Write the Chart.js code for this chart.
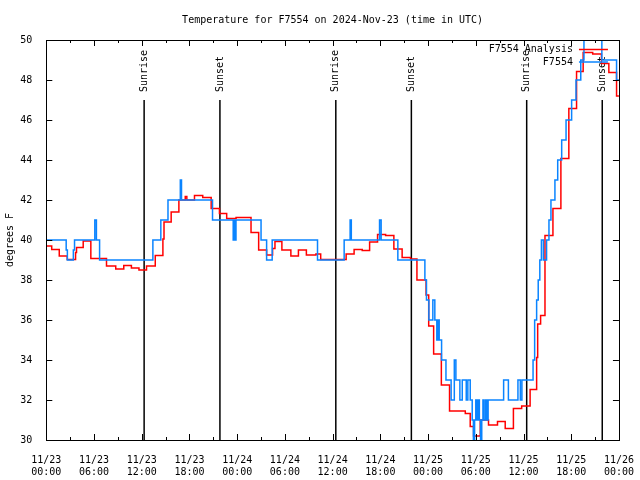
<!DOCTYPE html>
<html>
<head>
<meta charset="utf-8">
<script src="https://cdn.jsdelivr.net/npm/chart.js@4.4.1/dist/chart.umd.min.js"></script>
<style>
    html, body { margin: 0; padding: 0; background: #fff; }
    canvas { display: block; }
</style>
</head>
<body>
<canvas id="chart" width="640" height="480"></canvas>
<script>
// hours since 2024-11-23 00:00 UTC, value holds until the next entry
const stationHours = [0, 2.5, 2.65, 3.4, 3.55, 6.1, 6.3, 6.7, 13.4, 14.4, 15.3, 16.85, 17.0, 20.9, 23.5, 23.65, 23.75, 23.85,
    27.0, 27.7, 28.4, 34.1, 37.45, 38.2, 38.35, 41.9, 42.1, 44.2, 47.6, 47.8, 48.1, 48.6, 48.85, 49.1, 49.25, 49.4, 49.7,
    50.25, 50.9, 51.3, 51.5, 52.0, 52.3, 52.8, 53.0, 53.3, 53.55, 53.7, 53.85, 54.0, 54.15, 54.3, 54.45, 54.6, 54.75, 54.9,
    55.05, 55.25, 55.4, 55.55, 57.5, 58.1, 59.3, 59.6, 59.8, 61.2, 61.4, 61.65, 61.85, 62.05, 62.25, 62.5, 62.9, 63.2,
    63.45, 63.95, 64.3, 64.8, 65.35, 66.05, 66.6, 67.2, 67.6, 69.85, 71.7, 72];
const stationTemps = [40, 39.5, 39, 39.5, 40, 41, 40, 39, 40, 41, 42, 43, 42, 41, 40, 41, 40, 41,
    40, 39, 40, 39, 40, 41, 40, 41, 40, 39, 38, 37, 36, 37, 36, 35, 36, 35, 34,
    33, 32, 34, 33, 32, 33, 32, 33, 32, 31, 29.5, 31, 32, 31, 32, 31, 29.5, 31, 32,
    31, 32, 31, 32, 33, 32, 33, 32, 33, 34, 36, 37, 38, 39, 40, 39, 40, 41,
    42, 43, 44, 45, 46, 47, 48, 49, 51, 49, 48, 48];

const analysisHours = [0, 0.68, 1.63, 2.63, 3.68, 3.8, 4.64, 5.6, 7.57, 8.73, 9.74, 10.7, 11.65, 12.6, 13.7, 14.66, 14.8,
    15.7, 16.67, 17.47, 17.67, 18.63, 19.67, 20.73, 21.77, 22.68, 23.86, 25.74, 26.7, 27.7, 28.45, 28.75, 29.62, 30.75,
    31.7, 32.7, 33.9, 34.5, 37.7, 38.7, 39.72, 40.65, 41.65, 42.66, 43.7, 44.74, 45.79, 46.6, 47.75, 48.08, 48.7, 49.67,
    50.7, 52.68, 53.3, 53.72, 54.56, 55.6, 56.73, 57.7, 58.73, 59.77, 60.83, 61.65, 61.78, 62.15, 62.7, 63.7, 64.7,
    65.7, 66.67, 67.5, 68.7, 69.8, 70.73, 71.7, 72];
const analysisTemps = [39.7, 39.53, 39.2, 39.03, 39.37, 39.63, 39.95, 39.08, 38.7, 38.55, 38.72, 38.6, 38.5, 38.7, 39.23, 40.05, 40.9,
    41.4, 42.0, 42.17, 42.0, 42.23, 42.13, 41.58, 41.33, 41.08, 41.13, 40.38, 39.5, 39.25, 39.58, 39.92, 39.5, 39.2,
    39.5, 39.25, 39.3, 39.03, 39.3, 39.53, 39.47, 39.9, 40.28, 40.23, 39.55, 39.13, 39.05, 38.0, 37.25, 35.7, 34.3, 32.75,
    31.45, 31.33, 30.67, 30.2, 31.0, 30.75, 30.92, 30.58, 31.58, 31.7, 32.53, 34.13, 35.8, 36.23, 40.23, 41.58, 44.08,
    46.58, 48.42, 49.37, 49.3, 48.83, 48.37, 47.2, 47.2];

const sunHours = [12.3, 21.83, 36.4, 45.9, 60.4, 69.9];
const sunLabels = ["Sunrise", "Sunset", "Sunrise", "Sunset", "Sunrise", "Sunset"];

const xLabelHours = [0, 6, 12, 18, 24, 30, 36, 42, 48, 54, 60, 66, 72];
const xLabelDates = ["11/23", "11/23", "11/23", "11/23", "11/24", "11/24", "11/24", "11/24", "11/25", "11/25", "11/25", "11/25", "11/26"];
const xLabelTimes = ["00:00", "06:00", "12:00", "18:00", "00:00", "06:00", "12:00", "18:00", "00:00", "06:00", "12:00", "18:00", "00:00"];

const chartTitle = "Temperature for F7554 on 2024-Nov-23 (time in UTC)";
const seriesNames = ["F7554 Analysis", "F7554"];
const seriesColors = ["#ff0000", "#0a84ff"];

const mono = "'DejaVu Sans Mono', 'Liberation Mono', monospace";
const toPoints = (hours, temps) => hours.map((h, i) => ({ x: h, y: temps[i] }));

const gnuFrame = {
    id: "gnuFrame",
    beforeDatasetsDraw(chart) {
        const { ctx, chartArea: a, scales: { x } } = chart;
        ctx.save();
        ctx.strokeStyle = "#000";
        ctx.fillStyle = "#000";
        ctx.lineWidth = 1.5;
        ctx.font = "10px " + mono;
        sunHours.forEach((h, i) => {
            const px = x.getPixelForValue(h);
            ctx.beginPath();
            ctx.moveTo(px, a.top + 60);
            ctx.lineTo(px, a.bottom);
            ctx.stroke();
            ctx.save();
            ctx.translate(px, a.top + 52);
            ctx.rotate(-Math.PI / 2);
            ctx.textAlign = "left";
            ctx.textBaseline = "middle";
            ctx.fillText(sunLabels[i], 0, 0);
            ctx.restore();
        });
        ctx.restore();
    },
    afterDatasetsDraw(chart) {
        const { ctx, chartArea: a, scales: { x, y } } = chart;
        ctx.save();
        ctx.strokeStyle = "#000";
        ctx.lineWidth = 1;
        ctx.strokeRect(Math.round(a.left) + 0.5, Math.round(a.top) + 0.5,
            Math.round(a.right - a.left), Math.round(a.bottom - a.top));

        ctx.beginPath();
        x.ticks.forEach((t) => {
            const px = Math.round(x.getPixelForValue(t.value)) + 0.5;
            const len = xLabelHours.includes(t.value) ? 6 : 3;
            ctx.moveTo(px, a.bottom);
            ctx.lineTo(px, a.bottom - len);
            ctx.moveTo(px, a.top);
            ctx.lineTo(px, a.top + len);
        });
        y.ticks.forEach((t) => {
            const py = Math.round(y.getPixelForValue(t.value)) + 0.5;
            ctx.moveTo(a.left, py);
            ctx.lineTo(a.left + 6, py);
            ctx.moveTo(a.right, py);
            ctx.lineTo(a.right - 6, py);
        });
        ctx.stroke();

        ctx.font = "10px " + mono;
        ctx.fillStyle = "#000";
        ctx.textAlign = "center";
        ctx.textBaseline = "middle";
        ctx.fillText(chartTitle, (a.left + a.right) / 2, 20);

        // legend, top right inside the plot
        ctx.textAlign = "right";
        seriesNames.forEach((name, i) => {
            const ly = a.top + 9.5 + i * 12.5;
            ctx.fillStyle = "#000";
            ctx.fillText(name, a.right - 46, ly);
            ctx.strokeStyle = seriesColors[i];
            ctx.lineWidth = 1.5;
            ctx.beginPath();
            ctx.moveTo(a.right - 40, ly);
            ctx.lineTo(a.right - 11, ly);
            ctx.stroke();
        });
        ctx.restore();
    }
};

new Chart(document.getElementById("chart"), {
    type: "line",
    data: {
        datasets: [{
            label: seriesNames[0],
            data: toPoints(analysisHours, analysisTemps),
            borderColor: seriesColors[0],
            borderWidth: 1.5,
            stepped: "before",
            pointRadius: 0,
            order: 1
        }, {
            label: seriesNames[1],
            data: toPoints(stationHours, stationTemps),
            borderColor: seriesColors[1],
            borderWidth: 1.5,
            stepped: "before",
            pointRadius: 0,
            order: 0
        }]
    },
    options: {
        responsive: false,
        animation: false,
        layout: { padding: { left: 0, right: 19, top: 40, bottom: 0 } },
        plugins: {
            legend: { display: false },
            tooltip: { enabled: false },
            title: { display: false }
        },
        scales: {
            x: {
                type: "linear",
                min: 0,
                max: 72,
                grid: { display: false },
                border: { display: false },
                afterFit: (scale) => { scale.height = 40; },
                ticks: {
                    stepSize: 3,
                    autoSkip: false,
                    maxRotation: 0,
                    padding: 6,
                    color: "#000",
                    font: { family: mono, size: 10 },
                    callback: (value) => {
                        const i = xLabelHours.indexOf(value);
                        return i < 0 ? "" : [xLabelDates[i], xLabelTimes[i]];
                    }
                }
            },
            y: {
                min: 30,
                max: 50,
                grid: { display: false },
                border: { display: false },
                afterFit: (scale) => { scale.width = 46.3; },
                title: {
                    display: true,
                    text: "degrees F",
                    color: "#000",
                    font: { family: mono, size: 10 }
                },
                ticks: {
                    stepSize: 2,
                    padding: 6,
                    color: "#000",
                    font: { family: mono, size: 10 }
                }
            }
        }
    },
    plugins: [gnuFrame]
});
</script>
</body>
</html>
